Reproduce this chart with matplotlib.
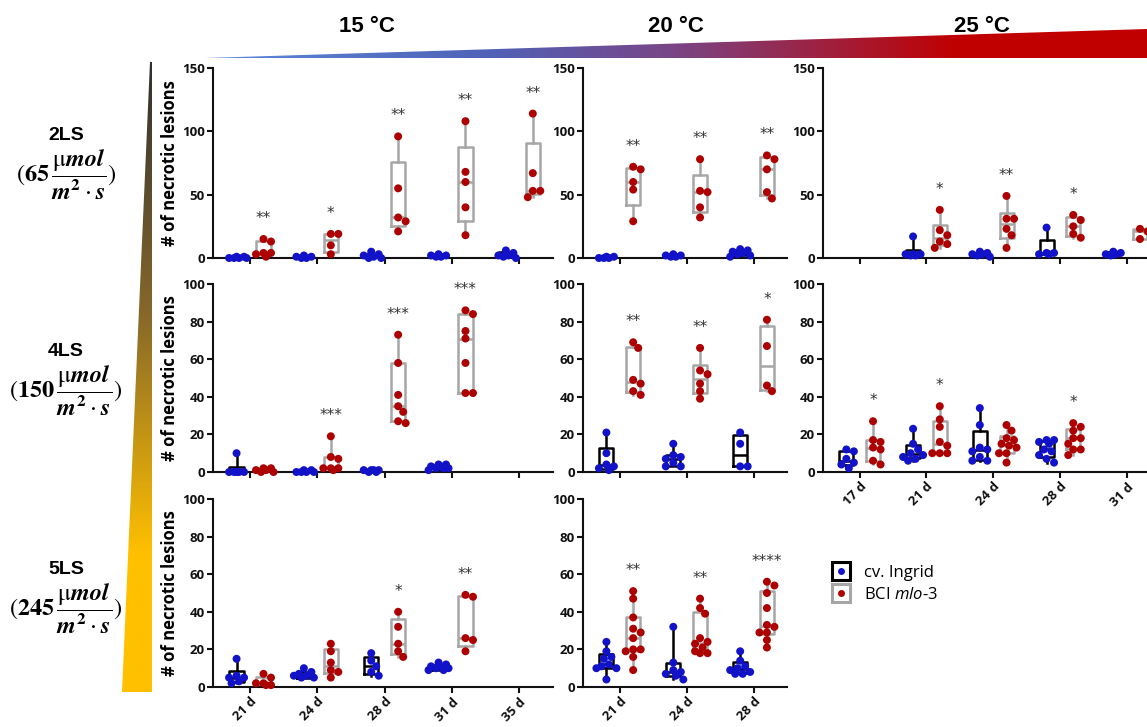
import numpy as np
import matplotlib
matplotlib.use('Agg')
import matplotlib.pyplot as plt
from matplotlib.colors import LinearSegmentedColormap
from matplotlib.patches import Polygon
from matplotlib.lines import Line2D
from matplotlib.font_manager import FontProperties

plt.rcParams['font.family'] = ['Open Sans', 'DejaVu Sans']
plt.rcParams['font.weight'] = 'bold'
plt.rcParams['mathtext.rm'] = 'STIXGeneral:weight=normal'
plt.rcParams['mathtext.bf'] = 'STIXGeneral:style=italic:weight=bold'
plt.rcParams['mathtext.sf'] = 'STIXGeneral:weight=bold'
plt.rcParams['mathtext.it'] = 'Open Sans:style=italic:weight=normal'

# ---- data ----
cats_15 = ['21 d', '24 d', '28 d', '31 d', '35 d']
cats_20 = ['21 d', '24 d', '28 d']
cats_25 = ['17 d', '21 d', '24 d', '28 d', '31 d']
temps = ['15 °C', '20 °C', '25 °C']
light_levels = ['2LS', '4LS', '5LS']
light_values = ['65', '150', '245']

# 2LS
ingrid_2ls_15 = [[0, 0, 1, 0, 1, 0], [0, 1, 2, 0, 1], [2, 5, 1, 0, 0, 3], [2, 3, 1, 2, 1], [2, 6, 1, 0, 2, 4]]
mlo_2ls_15 = [[15, 13, 4, 4, 3, 1], [19, 19, 10, 3], [96, 55, 32, 29, 21], [108, 68, 60, 40, 18], [114, 67, 53, 53, 48]]
stars_2ls_15 = ['**', '*', '**', '**', '**']
ingrid_2ls_20 = [[0, 1, 0, 1, 0], [2, 3, 1, 2, 1], [4, 6, 3, 2, 5, 1, 7]]
mlo_2ls_20 = [[72, 70, 60, 54, 29], [78, 53, 52, 40, 32], [81, 78, 70, 52, 47]]
stars_2ls_20 = ['**', '**', '**']
ingrid_2ls_25 = [[], [17, 3, 3, 3, 2, 2], [5, 3, 2, 4, 1, 3], [24, 4, 3, 3, 4], [5, 3, 2, 3, 4]]
mlo_2ls_25 = [[], [38, 22, 18, 13, 11, 8], [49, 31, 31, 23, 18, 8], [34, 30, 25, 19, 16], [23, 21, 15]]
stars_2ls_25 = ['', '*', '**', '*', '']

# 4LS
ingrid_4ls_15 = [[10, 0, 0, 0, 0, 0], [0, 1, 0, 1, 0, 0], [1, 1, 0, 1, 0, 1], [4, 3, 2, 2, 1, 3, 4, 2], []]
mlo_4ls_15 = [[2, 2, 1, 1, 0, 0], [19, 8, 7, 2, 2, 2, 1], [73, 58, 41, 35, 32, 27, 26], [86, 84, 75, 71, 58, 42, 42], []]
stars_4ls_15 = ['', '***', '***', '***', '']
ingrid_4ls_20 = [[21, 10, 4, 3, 2, 1], [15, 9, 8, 7, 5, 3, 3], [21, 15, 3, 3]]
mlo_4ls_20 = [[69, 66, 49, 47, 43, 41], [66, 54, 52, 47, 43, 39], [81, 67, 46, 43]]
stars_4ls_20 = ['**', '**', '*']
ingrid_4ls_25 = [[12, 11, 7, 5, 4, 2], [23, 15, 12, 10, 9, 8, 7, 6], [34, 25, 13, 12, 11, 8, 6, 6],
                 [17, 17, 16, 15, 12, 11, 9, 7, 5], []]
mlo_4ls_25 = [[27, 17, 16, 13, 12, 6, 4], [35, 28, 24, 16, 14, 10, 10, 10], [25, 22, 18, 17, 15, 14, 13, 10, 10, 5],
              [26, 24, 22, 18, 18, 15, 12, 12, 9], []]
stars_4ls_25 = ['*', '*', '', '*', '']

# 5LS
ingrid_5ls_15 = [[15, 6, 5, 5, 3, 2], [10, 8, 7, 6, 6, 5, 5], [18, 14, 11, 8, 6], [13, 12, 11, 11, 10, 10, 9, 9], []]
mlo_5ls_15 = [[7, 5, 2, 2, 1, 1], [23, 19, 13, 9, 8, 5], [40, 32, 23, 19, 16], [49, 48, 26, 25, 19], []]
stars_5ls_15 = ['', '', '*', '**', '']
ingrid_5ls_20 = [[24, 19, 16, 15, 12, 11, 10, 10, 4], [32, 13, 9, 8, 7, 6, 4], [19, 14, 11, 10, 9, 8, 7, 7]]
mlo_5ls_20 = [[51, 47, 37, 31, 29, 26, 20, 20, 19, 16, 9], [47, 42, 39, 26, 24, 23, 21, 19, 18, 18],
              [56, 54, 50, 42, 33, 32, 29, 29, 25, 21]]
stars_5ls_20 = ['**', '**', '****']

# ---- layout (pixel geometry of the original) ----
W, H = 1147, 727
col_px = [(213, 553), (583, 787), (823, 1160)]
row_px = [(68, 258), (284, 472), (499, 687)]
row_ymax = [150, 100, 100]
row_yticks = [[0, 50, 100, 150], [0, 20, 40, 60, 80, 100], [0, 20, 40, 60, 80, 100]]

blue = '#1212c8'
red = '#ad0000'
gray = '#a6a6a6'

panels = [
    (0, 0, cats_15, ingrid_2ls_15, mlo_2ls_15, stars_2ls_15, False),
    (0, 1, cats_20, ingrid_2ls_20, mlo_2ls_20, stars_2ls_20, False),
    (0, 2, cats_25, ingrid_2ls_25, mlo_2ls_25, stars_2ls_25, False),
    (1, 0, cats_15, ingrid_4ls_15, mlo_4ls_15, stars_4ls_15, False),
    (1, 1, cats_20, ingrid_4ls_20, mlo_4ls_20, stars_4ls_20, False),
    (1, 2, cats_25, ingrid_4ls_25, mlo_4ls_25, stars_4ls_25, True),
    (2, 0, cats_15, ingrid_5ls_15, mlo_5ls_15, stars_5ls_15, True),
    (2, 1, cats_20, ingrid_5ls_20, mlo_5ls_20, stars_5ls_20, True),
]


def px_rect(x0, x1, ytop, ybot):
    return [x0 / W, 1 - ybot / H, (x1 - x0) / W, (ybot - ytop) / H]


def box_stats(vals):
    q1, med, q3 = np.percentile(vals, [25, 50, 75], method='weibull')
    return dict(med=med, q1=q1, q3=q3, whislo=min(vals), whishi=max(vals), fliers=[])


def swarm_x(ax, center, vals, diam=7.5, max_off=10.0, step=2.5):
    # simple beeswarm in pixel space, like the prism scatter
    tr = ax.transData
    x0 = tr.transform((center, 0))[0]
    offsets = [0.0]
    k = 1
    while k * step <= max_off:
        offsets += [k * step, -k * step]
        k += 1
    placed = []
    out = np.empty(len(vals))
    for i in np.argsort(-np.asarray(vals), kind='stable'):
        y = tr.transform((center, vals[i]))[1]
        best, best_d = 0.0, -1.0
        for off in offsets:
            d = min([np.hypot(x0 + off - px, y - py) for px, py in placed], default=np.inf)
            if d >= diam:
                best = off
                break
            if d > best_d:
                best, best_d = off, d
        placed.append((x0 + best, y))
        out[i] = tr.inverted().transform((x0 + best, y))[0]
    return out


fig = plt.figure(figsize=(W / 100, H / 100), dpi=100)

# background: gradients + labels
bg = fig.add_axes([0, 0, 1, 1], zorder=-1)
top_cmap = LinearSegmentedColormap.from_list('temp', [(0, '#5b8ad8'), (0.3, '#4f62b8'), (0.5, '#7a4585'),
                                                      (0.8, '#c00000'), (1, '#c00000')])
left_cmap = LinearSegmentedColormap.from_list('light', [(0, '#303030'), (0.4, '#86682a'),
                                                        (0.78, '#ffc000'), (1, '#ffc000')])
g = np.linspace(0, 1, 256)
im1 = bg.imshow(g.reshape(1, -1), cmap=top_cmap, extent=(205, 1147, 58, 29), aspect='auto')
tri1 = Polygon([(205, 58), (1147, 29), (1147, 58)], closed=True, transform=bg.transData,
               facecolor='none', edgecolor='none')
bg.add_patch(tri1)
im1.set_clip_path(tri1)
im2 = bg.imshow(g.reshape(-1, 1), cmap=left_cmap, extent=(122, 152, 692, 62), aspect='auto')
tri2 = Polygon([(150, 62), (152, 62), (152, 692), (122, 692)], closed=True, transform=bg.transData,
               facecolor='none', edgecolor='none')
bg.add_patch(tri2)
im2.set_clip_path(tri2)
bg.set_xlim(0, W)
bg.set_ylim(H, 0)
bg.axis('off')

for t, xc in zip(temps, [367, 676, 982]):
    bg.text(xc, 26, t, ha='center', va='center', fontsize=16, fontweight='bold', family='Liberation Sans')

for lvl, val, yc in zip(light_levels, light_values, [136, 352, 570]):
    bg.text(66, yc, lvl, ha='center', va='center', fontsize=14, fontweight='bold', family='Liberation Sans')
    bg.text(66, yc + 39, r'$(\mathsf{%s}\,\dfrac{\mathrm{\mu}\mathbf{mol}}{\mathbf{m}^{\mathsf{2}}\cdot\mathbf{s}})$' % val,
            ha='center', va='center', fontsize=17.5, math_fontfamily='custom')

for r, c, cats, ingrid, mlo, stars, show_x in panels:
    x0, x1 = col_px[c]
    yt, yb = row_px[r]
    ax = fig.add_axes(px_rect(x0, x1, yt, yb))
    n = len(cats)
    ax.set_xlim(-0.55, n - 0.5)
    ax.set_ylim(0, row_ymax[r])
    for s in ['top', 'right']:
        ax.spines[s].set_visible(False)
    for s in ['left', 'bottom']:
        ax.spines[s].set_linewidth(1.5)
        ax.spines[s].set_color('#111111')
    ax.set_xticks(range(n))
    if show_x:
        ax.set_xticklabels(cats, rotation=45, ha='right', rotation_mode='anchor', fontsize=9.5)
    else:
        ax.set_xticklabels([])
    ax.set_yticks(row_yticks[r])
    ax.tick_params(direction='out', length=4, width=1.5, pad=2, colors='#111111')
    ax.tick_params(axis='y', labelsize=9.5)
    if c == 0:
        ax.set_ylabel('# of necrotic lesions', fontsize=12, fontweight='bold')
        ax.yaxis.set_label_coords(-0.1, 0.5)

    for i in range(n):
        for vals, off, fc, ec in [(ingrid[i], -0.2, blue, 'black'), (mlo[i], 0.2, red, gray)]:
            if len(vals) == 0:
                continue
            lp = dict(color=ec, linewidth=1.8)
            ax.bxp([box_stats(vals)], positions=[i + off], widths=0.21, showfliers=False, showcaps=False,
                   boxprops=lp, whiskerprops=lp, medianprops=lp, manage_ticks=False, zorder=2)
            xs = swarm_x(ax, i + off, vals)
            ax.scatter(xs, vals, s=33, color=fc, edgecolor='none', zorder=3, clip_on=False)
        if stars[i]:
            ax.annotate(stars[i], (i + 0.2, max(mlo[i])), xytext=(0, 11.5), textcoords='offset points',
                        ha='center', va='baseline', fontsize=11, fontweight='normal', color='#333333',
                        family='DejaVu Sans')

# legend
sq_k = Line2D([], [], ls='none', marker='s', markersize=13, mfc='white', mec='black', mew=2.2)
dot_b = Line2D([], [], ls='none', marker='o', markersize=5, mfc=blue, mec='none')
sq_g = Line2D([], [], ls='none', marker='s', markersize=13, mfc='white', mec=gray, mew=2.2)
dot_r = Line2D([], [], ls='none', marker='o', markersize=5, mfc=red, mec='none')
fig.legend([(sq_k, dot_b), (sq_g, dot_r)], ['cv. Ingrid', 'BCI $\\mathit{mlo}$-3'],
           loc='upper left', bbox_to_anchor=(829 / W, 1 - 565 / H), frameon=False,
           borderpad=0, borderaxespad=0, handlelength=1.4, handletextpad=0.7, labelspacing=0.35,
           prop=FontProperties(family='Open Sans', size=12, weight='normal', math_fontfamily='custom'))

fig.savefig('out.png', dpi=100)
